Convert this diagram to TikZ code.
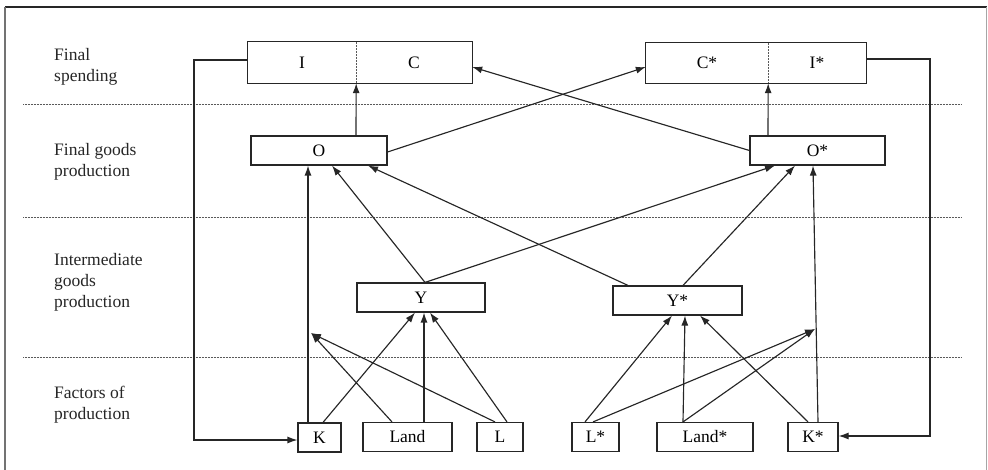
\documentclass[tikz,border=0pt]{standalone}
\usepackage{fontspec}
\setmainfont{Liberation Serif}
\usetikzlibrary{arrows.meta}
\tikzset{
  box/.style={draw=black!85, line width=1.15pt, inner sep=0pt, minimum height=29pt},
  half/.style={inner sep=0pt, minimum height=41pt},
  con/.style={draw=black!85, line width=1.15pt},
  arr/.style={con, -{Latex[length=10pt,width=7pt]}},
  sep/.style={draw=black!65, line width=0.9pt, dash pattern=on 1pt off 0.5pt},
  lab/.style={anchor=north west, align=left, inner sep=0pt, text=black!85}
}
\begin{document}
\begin{tikzpicture}[x=1pt,y=-1pt,font=\fontsize{17.5}{21}\selectfont]
\useasboundingbox (0,0) rectangle (988,470);
% frame
\draw[black!85, line width=1.4pt] (5,7) -- (987,7);
\draw[black!55, line width=2.2pt] (5,7) -- (5,470);
\draw[black!35, line width=1pt] (986.5,7) -- (986.5,470);
% separators
\draw[sep] (23,104) -- (961,104);
\draw[sep] (23,217) -- (961,217);
\draw[sep] (23,357) -- (961,357);
% row labels
\node[lab] (l1) at (54,48) {Final\\spending};
\node[lab] (l2) at (54,143) {Final goods\\production};
\node[lab] (l3) at (54,253) {Intermediate\\goods\\production};
\node[lab] (l4) at (54,386) {Factors of\\production};
% final spending boxes
\node[half, minimum width=108pt] (I) at (302,62.5) {I};
\node[half, minimum width=116pt] (C) at (414,62.5) {C};
\draw[con] (I.north west) rectangle (C.south east);
\draw[sep] (I.north east) -- (I.south east);
\node[half, minimum width=122pt, minimum height=40pt] (Cs) at (707,63) {C*};
\node[half, minimum width=98pt, minimum height=40pt] (Is) at (817,63) {I*};
\draw[con] (Cs.north west) rectangle (Is.south east);
\draw[sep] (Cs.north east) -- (Cs.south east);
% final goods
\node[box, minimum width=136pt] (O) at (319,150.5) {O};
\node[box, minimum width=135pt] (Os) at (817.5,150.5) {O*};
% intermediate
\node[box, minimum width=128pt] (Y) at (421,297.5) {Y};
\node[box, minimum width=129pt] (Ys) at (677.5,300.5) {Y*};
% factors
\node[box, minimum width=43pt] (K) at (319.5,437.5) {K};
\node[box, minimum width=89pt] (Land) at (407.5,437) {Land};
\node[box, minimum width=46pt] (L) at (500,437) {L};
\node[box, minimum width=47pt] (Ls) at (595.5,437) {L*};
\node[box, minimum width=96pt] (Lands) at (705,437) {Land*};
\node[box, minimum width=50pt] (Ks) at (813,437) {K*};
% helper coordinates
\coordinate (kt) at ([xshift=-11.5pt]K.north);
\coordinate (tipK) at (311,333);
\coordinate (tipKs) at (815,329);
\coordinate (lc) at (194,440);
\coordinate (rc) at (930,436);
% O -> spending
\draw[arr] ([xshift=37pt]O.north) -- (I.south east);
\draw[arr] ([xshift=-49.5pt]Os.north) -- (Cs.south east);
\draw[arr] ([yshift=-1.5pt]O.east) -- ([yshift=-4pt]Cs.west);
\draw[arr] (Os.west) -- ([yshift=-4.5pt]C.east);
% investment loops
\draw[arr] ([yshift=2.5pt]I.west) -| (lc) -- ([yshift=-2.5pt]K.west);
\draw[arr] ([yshift=4pt]Is.east) -| (rc) -- ([yshift=1pt]Ks.east);
% into O
\draw[arr] (kt) -- (kt |- O.south);
\draw[arr] ([xshift=4pt]Y.north) -- ([xshift=13pt]O.south);
\draw[arr] ([xshift=-49.5pt]Ys.north) -- ([xshift=49pt]O.south);
% into O*
\draw[arr] ([xshift=4pt]Y.north) -- ([xshift=-42.5pt]Os.south);
\draw[arr] ([xshift=5.5pt]Ys.north) -- ([xshift=-22.5pt]Os.south);
\draw[arr] ([xshift=5pt]Ks.north) -- ([xshift=-4.5pt]Os.south);
% into Y
\draw[arr] ([xshift=3.5pt]K.north) -- ([xshift=-6pt]Y.south);
\draw[arr] ([xshift=16.5pt]Land.north) -- ([xshift=3pt]Y.south);
\draw[arr] ([xshift=7pt]L.north) -- ([xshift=9pt]Y.south);
% into K line
\draw[arr] ([xshift=-15.5pt]Land.north) -- (tipK);
\draw[arr] ([xshift=-5pt]L.north) -- (tipK);
% into Y*
\draw[arr] ([xshift=-10.5pt]Ls.north) -- ([xshift=-5.5pt]Ys.south);
\draw[arr] ([xshift=-22pt]Lands.north) -- ([xshift=7.5pt]Ys.south);
\draw[arr] ([xshift=-5pt]Ks.north) -- ([xshift=22.5pt]Ys.south);
% into K* line
\draw[arr] ([xshift=-2.5pt]Ls.north) -- (tipKs);
\draw[arr] ([xshift=-22pt]Lands.north) -- (tipKs);
\end{tikzpicture}
\end{document}
